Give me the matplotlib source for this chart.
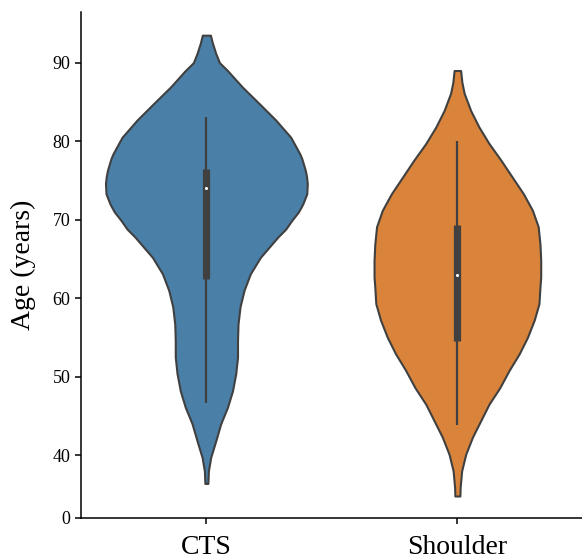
import matplotlib
matplotlib.use("Agg")
import matplotlib.pyplot as plt
import numpy as np

# categories and colours
groups = ["CTS", "Shoulder"]
colors = ["#4a7fa8", "#d9843a"]

# violin outlines: age (years) -> half width (category units)
cts_age = [93.5, 92.5, 91.2, 90.0, 89.0, 86.9, 84.8, 82.7, 80.5, 78.4, 77.8,
           76.3, 75.5, 74.6, 73.3, 72.0, 71.0, 69.9, 68.8, 67.8, 65.2, 63.1,
           61.0, 58.9, 56.7, 54.6, 52.5, 50.4, 48.2, 46.1, 44.0, 41.8, 39.7,
           38.0, 36.4]
cts_half = [0.016, 0.024, 0.037, 0.052, 0.084, 0.143, 0.210, 0.276, 0.336,
            0.372, 0.380, 0.394, 0.399, 0.402, 0.400, 0.384, 0.367, 0.340,
            0.316, 0.285, 0.215, 0.175, 0.150, 0.134, 0.126, 0.124, 0.124,
            0.117, 0.104, 0.084, 0.057, 0.037, 0.017, 0.008, 0.006]

sh_age = [89.0, 87.5, 86.1, 83.9, 81.8, 79.7, 77.6, 75.4, 73.3, 71.2, 69.1,
          66.9, 64.8, 62.7, 61.4, 59.3, 57.2, 55.0, 52.9, 50.8, 48.6, 46.5,
          44.4, 42.3, 40.1, 38.0, 35.9, 34.8]
sh_half = [0.013, 0.018, 0.027, 0.053, 0.086, 0.126, 0.173, 0.219, 0.263,
           0.299, 0.322, 0.329, 0.332, 0.332, 0.329, 0.325, 0.306, 0.279,
           0.246, 0.206, 0.169, 0.126, 0.093, 0.060, 0.033, 0.017, 0.011,
           0.010]

# box stats: whisker low, q1, median, q3, whisker high
cts_box = [46.7, 62.4, 74.0, 76.4, 83.1]
sh_box = [43.8, 54.5, 63.0, 69.3, 80.0]

ytick_values = [32, 40, 50, 60, 70, 80, 90]
ytick_labels = ["0", "40", "50", "60", "70", "80", "90"]

plt.rcParams["font.family"] = ["Liberation Serif", "DejaVu Serif"]

fig = plt.figure(figsize=(5.82, 5.54), dpi=100)
ax = fig.add_axes([0.139, 0.065, 0.8625, 0.914])

edge = "#404040"
outlines = [(cts_age, cts_half), (sh_age, sh_half)]
boxes = [cts_box, sh_box]
for i, ((ages, half), box, col) in enumerate(zip(outlines, boxes, colors)):
    ages = np.array(ages)
    half = np.array(half)
    ax.fill_betweenx(ages, i - half, i + half, facecolor=col,
                     edgecolor=edge, linewidth=1.5, joinstyle="round", zorder=1)
    lo, q1, med, q3, hi = box
    ax.vlines(i, lo, hi, color=edge, linewidth=1.6, zorder=2)
    ax.vlines(i, q1, q3, color=edge, linewidth=5.2, zorder=3)
    ax.scatter([i], [med], s=5, color="white", zorder=4, linewidths=0)

ax.set_xlim(-0.5, 1.5)
ax.set_ylim(32, 96.5)
ax.set_xticks(range(len(groups)))
ax.set_xticklabels(groups, fontsize=20)
ax.set_yticks(ytick_values)
ax.set_yticklabels(ytick_labels, fontsize=13)
ax.set_ylabel("Age (years)", fontsize=20, labelpad=12)

for s in ["top", "right"]:
    ax.spines[s].set_visible(False)
for s in ["left", "bottom"]:
    ax.spines[s].set_linewidth(1.1)
ax.tick_params(axis="both", length=4.5, width=1.1)
ax.tick_params(axis="x", pad=8)
ax.tick_params(axis="y", pad=3)

fig.savefig("out.png", dpi=100)
